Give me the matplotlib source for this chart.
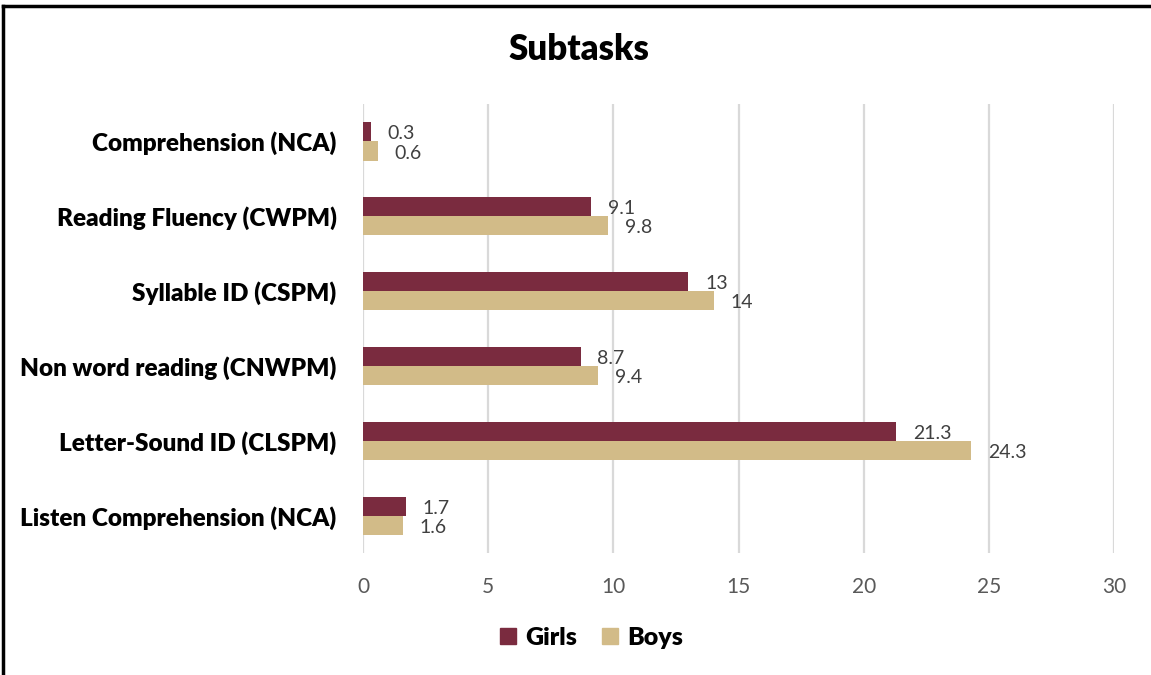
import numpy as np
import matplotlib.pyplot as plt
from matplotlib.lines import Line2D

# Subtask scores by group, listed top to bottom
subtasks = [
    "Comprehension (NCA)",
    "Reading Fluency (CWPM)",
    "Syllable ID (CSPM)",
    "Non word reading (CNWPM)",
    "Letter-Sound ID (CLSPM)",
    "Listen Comprehension (NCA)",
]
girls = [0.3, 9.1, 13, 8.7, 21.3, 1.7]
boys = [0.6, 9.8, 14, 9.4, 24.3, 1.6]
x_ticks = [0, 5, 10, 15, 20, 25, 30]

girls_color = "#7A2B3F"
boys_color = "#D2BB88"
font = "Lato"

fig = plt.figure(figsize=(11.51, 6.75), dpi=100)
ax = fig.add_axes([0.3154, 0.1807, 0.6525, 0.6652])

y = np.arange(len(subtasks))
h = 0.255
ax.barh(y - h / 2, girls, height=h, color=girls_color, label="Girls", zorder=3)
ax.barh(y + h / 2, boys, height=h, color=boys_color, label="Boys", zorder=3)

# Value labels just past the end of each bar
for i, (g, b) in enumerate(zip(girls, boys)):
    ax.annotate(f"{g:g}", (g, i - h / 2), xytext=(12, -1.5), textcoords="offset points",
                va="center", ha="left", fontsize=14, color="#404040", family=font)
    ax.annotate(f"{b:g}", (b, i + h / 2), xytext=(12, -1.5), textcoords="offset points",
                va="center", ha="left", fontsize=14, color="#404040", family=font)

ax.set_xlim(0, 30)
ax.set_ylim(len(subtasks) - 0.5, -0.5)
ax.set_xticks(x_ticks)
ax.set_yticks(y)
ax.set_yticklabels(subtasks, fontsize=17.5, fontweight="heavy", family=font)
ax.tick_params(axis="x", length=0, pad=17, labelsize=15, labelcolor="#595959")
ax.tick_params(axis="y", length=0, pad=19)
for lbl in ax.get_xticklabels():
    lbl.set_family(font)

ax.grid(axis="x", color="#D9D9D9", linewidth=1.6, zorder=0)
for s in ax.spines.values():
    s.set_visible(False)

fig.text(0.503, 0.926, "Subtasks", ha="center", va="center",
         fontsize=25, fontweight="heavy", family=font)

handles = [
    Line2D([], [], marker="s", linestyle="none", markersize=11, color=girls_color),
    Line2D([], [], marker="s", linestyle="none", markersize=11, color=boys_color),
]
fig.legend(handles, ["Girls", "Boys"], loc="center", bbox_to_anchor=(0.513, 0.055),
           ncol=2, frameon=False, handlelength=0.8, handletextpad=0.3,
           columnspacing=0.9, prop={"family": font, "weight": "heavy", "size": 18})

# Partial frame along the top and left edges
fig.add_artist(Line2D([0.003, 0.003], [0, 0.991], color="black", linewidth=2.5,
                      transform=fig.transFigure))
fig.add_artist(Line2D([0.003, 1.0], [0.991, 0.991], color="black", linewidth=2.5,
                      transform=fig.transFigure))

fig.savefig("out.png", dpi=100)
